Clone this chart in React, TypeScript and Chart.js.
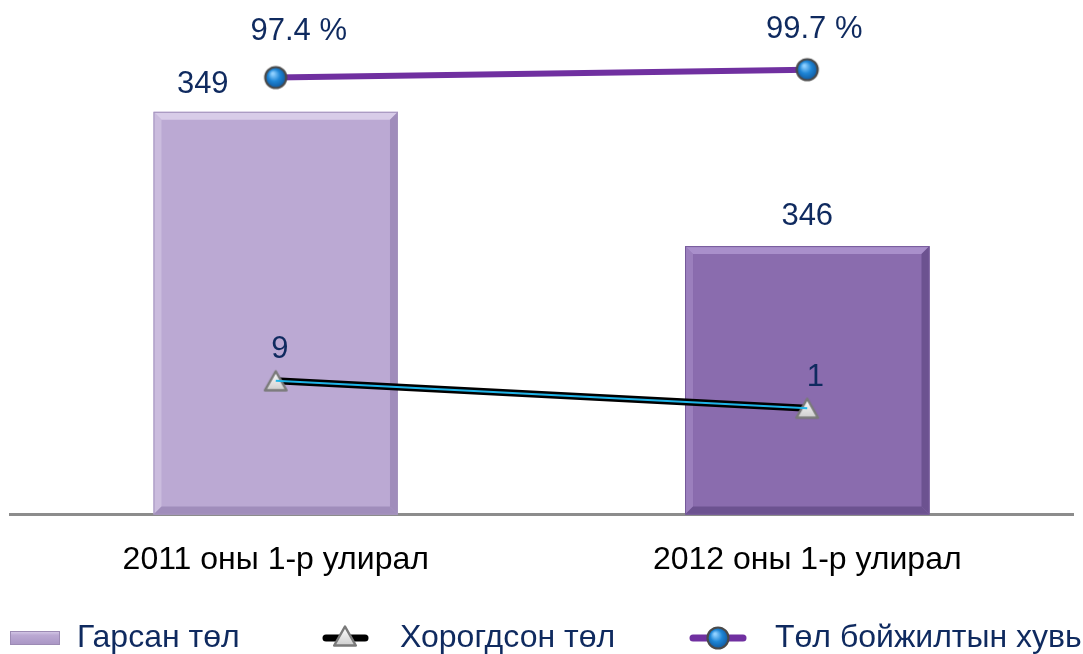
import React, { useEffect, useRef } from 'react';
import { Chart, registerables } from 'chart.js';

Chart.register(...registerables);

// ---- data ----
const categories = ['2011 оны 1-р улирал', '2012 оны 1-р улирал'];
const bornValues = [349, 346];
const lostValues = [9, 1];
const rearingPct = [97.4, 99.7];
const seriesNames = ['Гарсан төл', 'Хорогдсон төл', 'Төл бойжилтын хувь'];

// ---- styles ----
const FONT = "'Liberation Sans', Arial, sans-serif";
const NAVY = '#0F2A5F';
const barColors = ['#BBA9D3', '#8A6CAE'];
const barBorders = ['#A594BE', '#75599A'];
const bevelLight = ['#D8CCE8', '#A98FCB'];
const bevelDark = ['#A08DBB', '#6C5290'];
const barLabelOffsets = [[-73, -27], [0, -30]];
const pctLabelOffsets = [[23, -46], [7, -40]];
const lostLabelOffsets = [[4, -31], [8, -31]];

function makeSphere(): HTMLCanvasElement {
  const c = document.createElement('canvas');
  c.width = 26; c.height = 26;
  const g = c.getContext('2d')!;
  const grad = g.createRadialGradient(10, 9, 1, 13, 13, 12);
  grad.addColorStop(0, '#8fd0ff');
  grad.addColorStop(0.45, '#1f86d6');
  grad.addColorStop(1, '#0c4f93');
  g.beginPath();
  g.arc(13, 13, 10.5, 0, Math.PI * 2);
  g.fillStyle = grad;
  g.fill();
  g.lineWidth = 2.2;
  g.strokeStyle = '#4a4a4a';
  g.stroke();
  return c;
}

function makeTriangle(): HTMLCanvasElement {
  const c = document.createElement('canvas');
  c.width = 26; c.height = 24;
  const g = c.getContext('2d')!;
  const grad = g.createLinearGradient(0, 3, 0, 21);
  grad.addColorStop(0, '#ffffff');
  grad.addColorStop(1, '#cfcfcf');
  g.beginPath();
  g.moveTo(13, 2.5);
  g.lineTo(23.8, 21.5);
  g.lineTo(2.2, 21.5);
  g.closePath();
  g.fillStyle = grad;
  g.fill();
  g.lineWidth = 2.5;
  g.lineJoin = 'round';
  g.strokeStyle = '#7a7a7a';
  g.stroke();
  return c;
}

export default function App() {
  const ref = useRef<HTMLCanvasElement | null>(null);

  useEffect(() => {
    document.body.style.margin = '0';
    const canvas = ref.current!;
    const sphere = makeSphere();
    const tri = makeTriangle();

    const bevelPlugin = {
      id: 'barBevel',
      afterDatasetDraw(chart: any, args: any) {
        if (args.index !== 0) return;
        const ctx = chart.ctx;
        const meta = chart.getDatasetMeta(0);
        const b = 8;
        ctx.save();
        meta.data.forEach((el: any, i: number) => {
          const l = el.x - el.width / 2;
          const r = el.x + el.width / 2;
          const t = el.y;
          const bt = Math.min(el.base, chart.chartArea.bottom);
          ctx.fillStyle = bevelLight[i];
          ctx.beginPath();
          ctx.moveTo(l, t); ctx.lineTo(r, t); ctx.lineTo(r - b, t + b); ctx.lineTo(l + b, t + b);
          ctx.closePath(); ctx.fill();
          ctx.globalAlpha = 0.55;
          ctx.beginPath();
          ctx.moveTo(l, t); ctx.lineTo(l + b, t + b); ctx.lineTo(l + b, bt - b); ctx.lineTo(l, bt);
          ctx.closePath(); ctx.fill();
          ctx.globalAlpha = 1;
          ctx.fillStyle = bevelDark[i];
          ctx.beginPath();
          ctx.moveTo(r, t); ctx.lineTo(r, bt); ctx.lineTo(r - b, bt - b); ctx.lineTo(r - b, t + b);
          ctx.closePath(); ctx.fill();
          ctx.beginPath();
          ctx.moveTo(l, bt); ctx.lineTo(r, bt); ctx.lineTo(r - b, bt - b); ctx.lineTo(l + b, bt - b);
          ctx.closePath(); ctx.fill();
          ctx.strokeStyle = barBorders[i];
          ctx.lineWidth = 1;
          ctx.strokeRect(l + 0.5, t + 0.5, r - l - 1, bt - t - 1);
        });
        ctx.restore();
      },
    };

    const labelPlugin = {
      id: 'valueLabels',
      afterDatasetsDraw(chart: any) {
        const ctx = chart.ctx;
        ctx.save();
        ctx.font = `31px ${FONT}`;
        ctx.fillStyle = NAVY;
        ctx.textAlign = 'center';
        ctx.textBaseline = 'middle';
        const draw = (dsIndex: number, values: number[], offs: number[][], fmt: (v: number) => string) => {
          const meta = chart.getDatasetMeta(dsIndex);
          meta.data.forEach((el: any, i: number) => {
            ctx.fillText(fmt(values[i]), el.x + offs[i][0], el.y + offs[i][1]);
          });
        };
        draw(0, bornValues, barLabelOffsets, (v) => String(v));
        draw(1, lostValues, lostLabelOffsets, (v) => String(v));
        draw(3, rearingPct, pctLabelOffsets, (v) => v.toFixed(1) + ' %');
        ctx.restore();
      },
    };

    const legendPlugin = {
      id: 'customLegend',
      afterDraw(chart: any) {
        const ctx = chart.ctx;
        const y = 638;
        ctx.save();
        const lg = ctx.createLinearGradient(0, 631, 0, 645);
        lg.addColorStop(0, '#d9cdea');
        lg.addColorStop(0.3, '#bba9d3');
        lg.addColorStop(1, '#a995c4');
        ctx.fillStyle = lg;
        ctx.fillRect(10, 631, 50, 14);
        ctx.strokeStyle = '#9C8BB4';
        ctx.lineWidth = 1;
        ctx.strokeRect(10.5, 631.5, 49, 13);
        ctx.lineCap = 'round';
        ctx.strokeStyle = '#000';
        ctx.lineWidth = 7;
        ctx.beginPath(); ctx.moveTo(326, y); ctx.lineTo(365, y); ctx.stroke();
        ctx.drawImage(tri, 345 - 13, y - 14);
        ctx.strokeStyle = '#7030A0';
        ctx.lineWidth = 7;
        ctx.beginPath(); ctx.moveTo(693, y); ctx.lineTo(743, y); ctx.stroke();
        ctx.drawImage(sphere, 718 - 13, y - 13);
        ctx.font = `32px ${FONT}`;
        ctx.fillStyle = NAVY;
        ctx.textAlign = 'left';
        ctx.textBaseline = 'middle';
        ctx.fillText(seriesNames[0], 77, y);
        ctx.fillText(seriesNames[1], 400, y);
        ctx.fillText(seriesNames[2], 775, y);
        ctx.restore();
      },
    };

    const chart = new Chart(canvas, {
      type: 'bar',
      data: {
        labels: categories,
        datasets: [
          {
            type: 'bar',
            label: seriesNames[0],
            data: bornValues,
            yAxisID: 'y',
            backgroundColor: barColors,
            borderColor: barBorders,
            borderWidth: 0,
            barPercentage: 0.92,
            categoryPercentage: 0.5,
            order: 10,
          },
          {
            type: 'line',
            label: seriesNames[1],
            data: lostValues,
            yAxisID: 'y1',
            borderColor: '#000000',
            borderWidth: 7,
            pointStyle: tri as any,
            pointRadius: 11,
            order: 5,
          },
          {
            type: 'line',
            label: seriesNames[1] + '-inner',
            data: lostValues,
            yAxisID: 'y1',
            borderColor: '#1FB4E8',
            borderWidth: 2,
            pointRadius: 0,
            order: 4,
          },
          {
            type: 'line',
            label: seriesNames[2],
            data: rearingPct,
            yAxisID: 'y1',
            borderColor: '#7030A0',
            borderWidth: 6,
            pointStyle: sphere as any,
            pointRadius: 11,
            order: 1,
          },
        ],
      } as any,
      options: {
        responsive: false,
        animation: false,
        events: [],
        layout: { autoPadding: false, padding: { left: 10, right: 10, top: 0, bottom: 49 } },
        plugins: { legend: { display: false }, tooltip: { enabled: false } },
        scales: {
          x: {
            offset: true,
            grid: { display: false, drawTicks: false, tickLength: 0 },
            border: { display: true, color: '#8C8C8C', width: 3 },
            ticks: { color: '#000000', font: { family: FONT, size: 32 }, padding: 26 },
          },
          y: { display: false, min: 340, max: 351.5 },
          y1: { display: false, min: -30, max: 120, position: 'right' },
        },
      } as any,
      plugins: [bevelPlugin, labelPlugin, legendPlugin],
    });
    return () => chart.destroy();
  }, []);

  return (
    <div style={{ width: 1083, height: 654, background: '#fff' }}>
      <canvas ref={ref} width={1083} height={654} style={{ display: 'block' }} />
    </div>
  );
}
